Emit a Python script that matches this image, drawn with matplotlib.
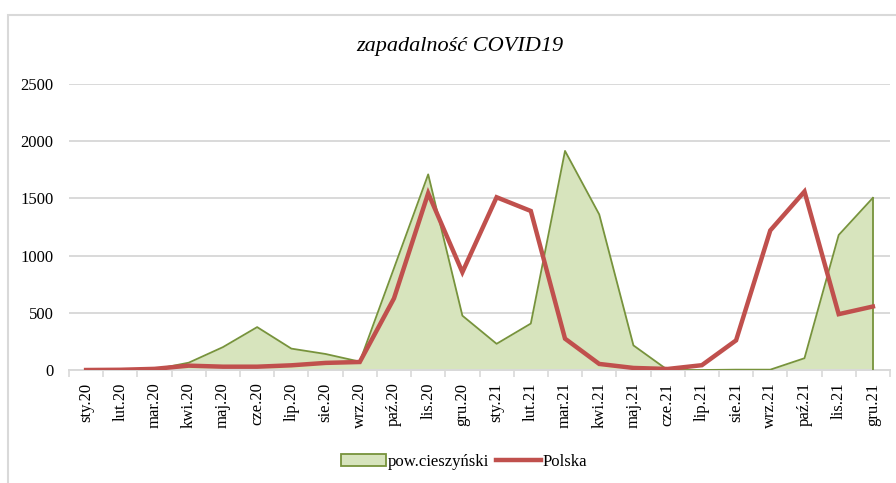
import matplotlib
matplotlib.use('Agg')
import matplotlib.pyplot as plt
from matplotlib.patches import Rectangle
from matplotlib.lines import Line2D
from matplotlib.patches import Patch

## zapadalnosc COVID19 - powiat cieszynski vs Polska

months = ['sty.20', 'lut.20', 'mar.20', 'kwi.20', 'maj.20', 'cze.20', 'lip.20', 'sie.20',
          'wrz.20', 'paź.20', 'lis.20', 'gru.20', 'sty.21', 'lut.21', 'mar.21', 'kwi.21',
          'maj.21', 'cze.21', 'lip.21', 'sie.21', 'wrz.21', 'paź.21', 'lis.21', 'gru.21']
cieszynski = [0, 0, 5, 64, 200, 375, 187, 140, 73, 890, 1710, 475, 229, 406, 1915, 1360,
              215, 0, 0, 3, 3, 103, 1180, 1505]
polska = [0, 2, 10, 38, 29, 29, 41, 62, 70, 626, 1545, 855, 1510, 1390, 274, 53,
          18, 9, 42, 259, 1220, 1560, 488, 555]
yticks = [0, 500, 1000, 1500, 2000, 2500]

plt.rcParams['font.family'] = ['Liberation Serif', 'DejaVu Serif']

fig = plt.figure(figsize=(8.96, 4.83), dpi=100)
ax = fig.add_axes([69/896, 1-370/483, (890-69)/896, (370-84)/483])

x = list(range(len(months)))
ax.fill_between(x, cieszynski, 0, color='#D7E4BD', linewidth=0, zorder=2)
ax.plot(x, cieszynski, color='#77933C', linewidth=1.3, zorder=3)
ax.plot([x[-1], x[-1]], [0, cieszynski[-1]], color='#77933C', linewidth=1.3, zorder=3)
ax.plot(x, polska, color='#C0504D', linewidth=3.2, zorder=4, solid_joinstyle='miter')

ax.set_xlim(-0.5, len(months) - 0.5)
ax.set_ylim(0, 2500)
ax.set_yticks(yticks)
ax.set_yticklabels([str(v) for v in yticks], fontsize=12)
ax.set_xticks(x)
ax.set_xticklabels(months, rotation=90, fontsize=12)
ax.set_xticks([i - 0.5 for i in range(len(months) + 1)], minor=True)
ax.tick_params(axis='x', which='major', length=0, pad=9)
ax.tick_params(axis='x', which='minor', length=5, color='#D9D9D9', width=1.2)
ax.tick_params(axis='y', length=0, pad=11)
ax.grid(axis='y', color='#D9D9D9', linewidth=1.4, zorder=0)
ax.set_axisbelow(True)
for s in ['left', 'right', 'top']:
    ax.spines[s].set_visible(False)
ax.spines['bottom'].set_color('#D9D9D9')
ax.spines['bottom'].set_linewidth(1.4)

fig.text(460/896, 1-46/483, 'zapadalność COVID19', ha='center', va='center',
         fontsize=16, style='italic')

handles = [Patch(facecolor='#D7E4BD', edgecolor='#77933C', linewidth=1.3),
           Line2D([0], [0], color='#C0504D', linewidth=3.2)]
fig.legend(handles, ['pow.cieszyński', 'Polska'], loc='center', bbox_to_anchor=(464/896, 1-462/483),
           ncol=2, frameon=False, fontsize=12, handlelength=2.7, handletextpad=0.1, columnspacing=0.4)

fig.patches.append(Rectangle((8/896, -0.05), 1.0, (483-15)/483 + 0.05, transform=fig.transFigure,
                             fill=False, edgecolor='#D9D9D9', linewidth=1.5))

plt.savefig('out.png', dpi=100)
